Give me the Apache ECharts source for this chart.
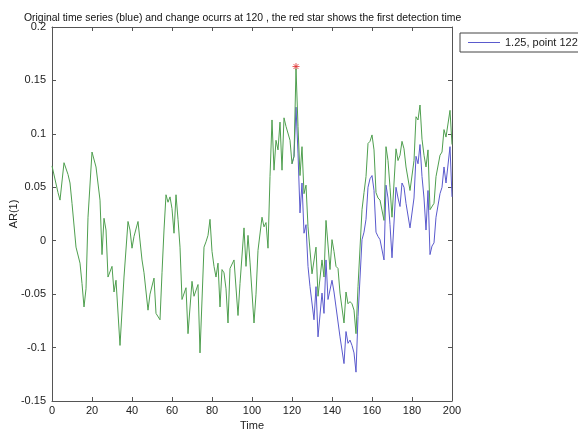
<!DOCTYPE html>
<html>
<head>
<meta charset="utf-8">
<script src="https://cdn.jsdelivr.net/npm/echarts@6/dist/echarts.min.js"></script>
<style>
  html, body { margin: 0; padding: 0; background: #fff; }
  #chart { width: 578px; height: 431px; }
</style>
</head>
<body>
<div id="chart"></div>
<script>
// 绿色：变化后的序列（读图估计的转折点）
const greenT = [0, 1, 3, 4, 6, 8, 9, 10, 12, 14, 15, 16, 17, 18, 20, 22, 24, 25, 26, 27, 28, 30, 31, 32, 34, 36, 38, 39, 40, 41, 42, 43, 45, 46, 48, 49, 51, 52, 53, 54, 55, 56, 57, 58, 59, 60, 61, 62, 63, 64, 65, 67, 68, 70, 71, 73, 74, 76, 77, 78, 79, 80, 81, 82, 83, 84, 85, 86, 87, 88, 89, 91, 93, 94, 96, 97, 98, 99, 101, 102, 103, 105, 106, 107, 108, 109, 110, 111, 112, 113, 114, 115, 116, 117, 119, 120, 121, 122, 123, 124, 125, 126, 127, 128, 129, 130, 132, 133, 135, 136, 137, 139, 140, 141, 142, 143, 144, 146, 147, 148, 149, 150, 151, 152, 153, 155, 156, 157, 158, 159, 160, 161, 162, 163, 164, 166, 167, 168, 169, 170, 171, 172, 173, 174, 175, 176, 177, 179, 180, 181, 182, 183, 184, 185, 186, 187, 188, 189, 191, 192, 194, 195, 196, 197, 199, 200];
const greenV = [0.070, 0.069, 0.045, 0.038, 0.073, 0.062, 0.054, 0.035, -0.006, -0.021, -0.040, -0.062, -0.045, 0.022, 0.083, 0.069, 0.038, -0.013, 0.021, 0.010, -0.034, -0.024, -0.048, -0.037, -0.098, -0.034, 0.018, 0.010, -0.007, 0.004, 0.004, 0.018, -0.018, -0.030, -0.065, -0.050, -0.035, -0.068, -0.068, -0.074, -0.030, 0.010, 0.043, 0.036, 0.041, 0.030, 0.007, 0.043, 0.020, -0.006, -0.055, -0.044, -0.087, -0.038, -0.052, -0.041, -0.105, -0.006, -0.001, 0.005, 0.020, -0.010, -0.024, -0.034, -0.021, -0.062, -0.027, -0.030, -0.045, -0.077, -0.026, -0.018, -0.070, -0.040, 0.012, -0.024, 0.005, -0.020, -0.077, -0.050, -0.009, 0.022, 0.013, 0.017, -0.007, 0.060, 0.113, 0.066, 0.094, 0.085, 0.111, 0.066, 0.115, 0.107, 0.094, 0.072, 0.079, 0.161, 0.107, 0.061, 0.088, 0.044, 0.052, 0.013, 0.013, -0.031, -0.006, -0.052, -0.018, -0.034, 0.019, -0.027, 0.001, -0.010, -0.024, -0.026, -0.049, -0.077, -0.048, -0.059, -0.057, -0.059, -0.065, -0.087, -0.043, 0.029, 0.045, 0.060, 0.091, 0.093, 0.099, 0.085, 0.045, 0.040, 0.038, 0.019, 0.088, 0.075, 0.050, 0.022, 0.021, 0.086, 0.075, 0.080, 0.093, 0.086, 0.069, 0.047, 0.048, 0.075, 0.116, 0.113, 0.127, 0.095, 0.080, 0.069, 0.085, 0.029, 0.035, 0.060, 0.080, 0.083, 0.104, 0.097, 0.122, 0.090];

// 蓝色：原始序列（120 之前与绿色重合）
const blueT = [120, 121, 122, 123, 124, 125, 126, 127, 128, 129, 131, 132, 133, 135, 136, 137, 138, 140, 141, 142, 143, 144, 146, 147, 148, 149, 150, 151, 152, 153, 155, 156, 157, 158, 159, 160, 161, 162, 163, 164, 166, 167, 168, 169, 170, 171, 172, 173, 174, 175, 176, 177, 179, 180, 181, 182, 183, 184, 185, 186, 187, 188, 189, 190, 191, 192, 194, 195, 196, 197, 199, 200];
const blueV = [0.072, 0.079, 0.125, 0.082, 0.026, 0.054, 0.007, 0.015, -0.024, -0.043, -0.074, -0.043, -0.090, -0.049, -0.068, -0.018, -0.055, -0.037, -0.048, -0.062, -0.062, -0.090, -0.115, -0.085, -0.096, -0.093, -0.098, -0.105, -0.123, -0.071, 0.001, 0.008, 0.020, 0.050, 0.058, 0.061, 0.047, 0.008, 0.004, 0.001, -0.018, 0.052, 0.040, 0.015, -0.016, -0.017, 0.050, 0.040, 0.032, 0.054, 0.050, 0.035, 0.012, 0.012, 0.040, 0.079, 0.072, 0.090, 0.060, 0.040, 0.010, 0.047, -0.013, -0.005, -0.002, 0.022, 0.044, 0.050, 0.069, 0.054, 0.088, 0.041];

// 首次检测点（红色星号）
const detectT = [122];
const detectV = [0.163];

const legendName = '1.25, point 122';
const titleText = 'Original time series (blue) and change ocurrs at 120 , the red star shows the first detection time';

const pairs = (t, v) => t.map((x, i) => [x, v[i]]);

const chart = echarts.init(document.getElementById('chart'));
const axisLineStyle = { onZero: false, lineStyle: { color: '#555', width: 1 } };
const tickStyle = { inside: true, length: 4, lineStyle: { color: '#555' } };
const labelStyle = { color: '#222', fontSize: 11, fontFamily: 'Liberation Sans, Arial, sans-serif' };

chart.setOption({
  animation: false,
  backgroundColor: '#fff',
  title: {
    text: titleText,
    left: 19, top: 8,
    textStyle: { fontSize: 10.4, fontWeight: 'normal', color: '#111', fontFamily: 'Liberation Sans, Arial, sans-serif' }
  },
  legend: {
    data: [{ name: legendName, icon: 'rect' }],
    left: 460, top: 33,
    padding: [4, 40, 4, 8],
    itemWidth: 32, itemHeight: 1, itemGap: 6,
    borderColor: '#444', borderWidth: 1,
    textStyle: { fontSize: 11, color: '#222', fontFamily: 'Liberation Sans, Arial, sans-serif' }
  },
  grid: { left: 52, right: 126, top: 27, bottom: 30, containLabel: false, outerBoundsMode: 'none' },
  xAxis: [
    {
      type: 'value', min: 0, max: 200, interval: 20, position: 'bottom',
      name: 'Time', nameLocation: 'middle', nameGap: 16,
      nameTextStyle: labelStyle,
      axisLine: axisLineStyle, axisTick: tickStyle,
      axisLabel: { ...labelStyle, margin: 4 }, splitLine: { show: false }
    },
    {
      type: 'value', min: 0, max: 200, interval: 20, position: 'top',
      axisLine: axisLineStyle, axisTick: tickStyle,
      axisLabel: { show: false }, splitLine: { show: false }
    }
  ],
  yAxis: [
    {
      type: 'value', min: -0.15, max: 0.2, interval: 0.05, position: 'left',
      name: 'AR(1)', nameLocation: 'middle', nameGap: 33, nameRotate: 90,
      nameTextStyle: labelStyle, nameMoveOverlap: false,
      axisLine: axisLineStyle, axisTick: tickStyle,
      axisLabel: { ...labelStyle, margin: 6, formatter: v => String(+v.toFixed(2)) },
      splitLine: { show: false }
    },
    {
      type: 'value', min: -0.15, max: 0.2, interval: 0.05, position: 'right',
      axisLine: axisLineStyle, axisTick: tickStyle,
      axisLabel: { show: false }, splitLine: { show: false }
    }
  ],
  series: [
    {
      name: legendName, type: 'line', showSymbol: false,
      data: pairs(blueT, blueV),
      lineStyle: { color: '#5a5acd', width: 1 }, itemStyle: { color: '#5a5acd' }
    },
    {
      name: 'changed', type: 'line', showSymbol: false,
      data: pairs(greenT, greenV),
      lineStyle: { color: '#4f9f4f', width: 1 }, itemStyle: { color: '#4f9f4f' }
    },
    {
      name: 'detect', type: 'scatter',
      data: pairs(detectT, detectV),
      symbol: 'path://M0,5L10,5M5,0L5,10M1.5,1.5L8.5,8.5M8.5,1.5L1.5,8.5',
      symbolSize: 7,
      itemStyle: { color: 'transparent', borderColor: '#e03030', borderWidth: 1 }
    }
  ]
});
</script>
</body>
</html>
